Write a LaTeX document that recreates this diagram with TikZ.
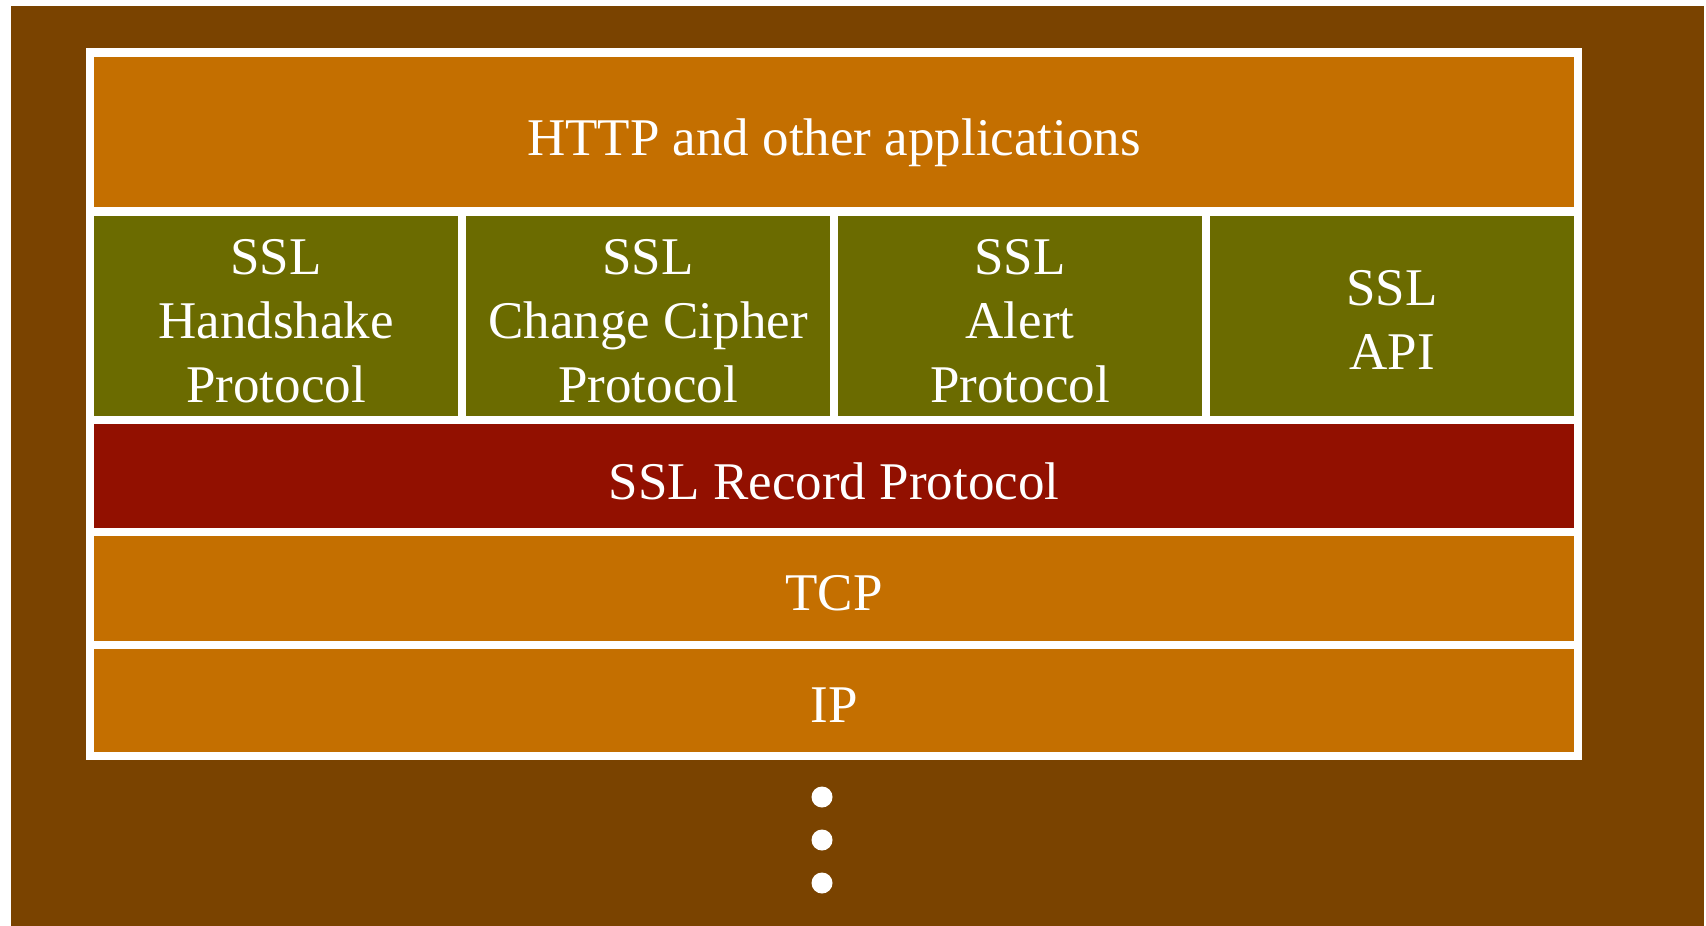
\documentclass[tikz,border=0pt]{standalone}
\usepackage{fontspec}
\setmainfont{Liberation Serif}
\definecolor{bgbrown}{RGB}{122,67,0}
\definecolor{layorange}{RGB}{196,111,0}
\definecolor{layolive}{RGB}{107,107,0}
\definecolor{layred}{RGB}{146,16,0}
\tikzset{
  layer/.style={inner sep=0pt, outer sep=0pt, minimum width=1480pt},
  col/.style={inner sep=0pt, outer sep=0pt, minimum width=364pt, minimum height=200pt, fill=layolive},
  txt/.style={inner sep=0pt, text=white, align=center, font=\fontsize{53}{64}\selectfont},
  dotnode/.style={circle, fill=white, inner sep=0pt, minimum size=21pt}
}
\begin{document}
\begin{tikzpicture}[x=1pt,y=-1pt]
\useasboundingbox (0,0) rectangle (1706,926);
\fill[bgbrown] (11,6) rectangle (1704,926);
\fill[white] (86,48) rectangle (1582,760);
\node[layer, fill=layorange, minimum height=150pt] (http) at (834,132) {};
\node[col] (hand) at (276,316) {};
\node[col] (ccs) at (648,316) {};
\node[col] (alert) at (1020,316) {};
\node[col] (api) at (1392,316) {};
\node[layer, fill=layred, minimum height=104pt] (rec) at (834,476) {};
\node[layer, fill=layorange, minimum height=105pt] (tcp) at (834,588.5) {};
\node[layer, fill=layorange, minimum height=103pt] (ip) at (834,700.5) {};
\node[txt] (httpT) at ([yshift=-11pt]http.center) {HTTP and other applications};
\node[txt] (handT) at ([yshift=-5pt]hand.center) {SSL\\Handshake\\Protocol};
\node[txt] (ccsT) at ([yshift=-5pt]ccs.center) {SSL\\Change Cipher\\Protocol};
\node[txt] (alertT) at ([yshift=-5pt]alert.center) {SSL\\Alert\\Protocol};
\node[txt] (apiT) at ([yshift=-4pt]api.center) {SSL\\API};
\node[txt] (recT) at ([yshift=-5pt]rec.center) {SSL Record Protocol};
\node[txt] (tcpT) at ([yshift=-5pt]tcp.center) {TCP};
\node[txt] (ipT) at ([yshift=-5pt]ip.center) {IP};
\node[dotnode] (d1) at (822,797) {};
\node[dotnode] (d2) at (822,840) {};
\node[dotnode] (d3) at (822,883) {};
\end{tikzpicture}
\end{document}
